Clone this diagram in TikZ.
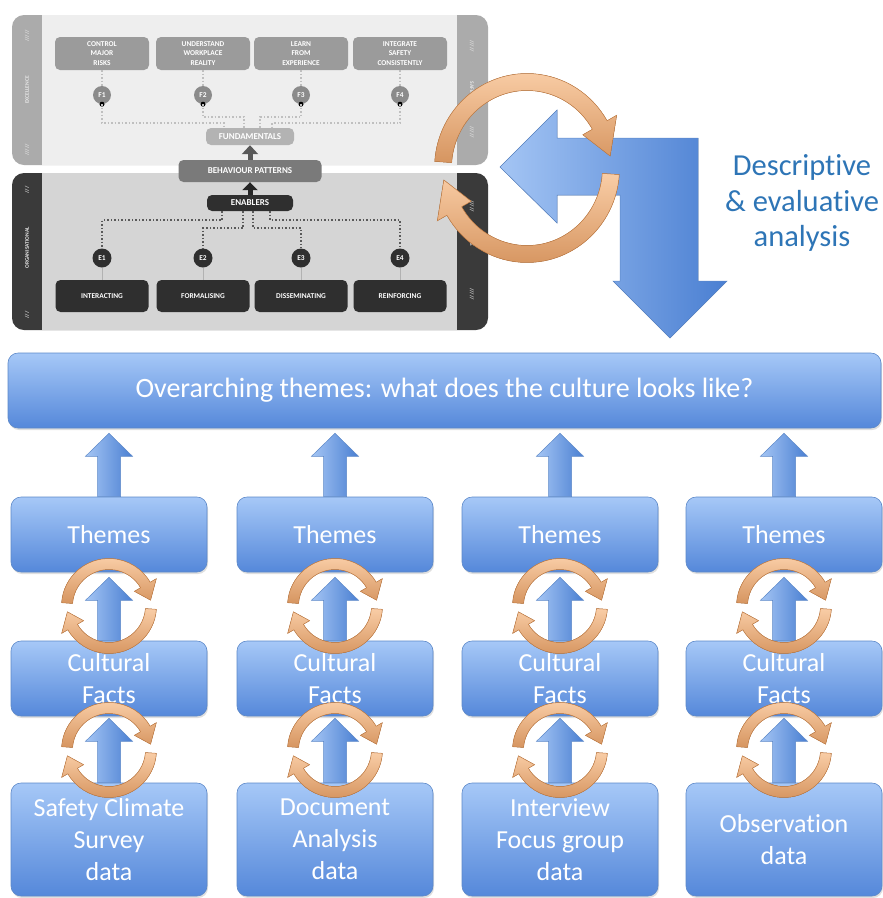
\documentclass[tikz,border=0pt]{standalone}
\usepackage{fontspec}
\setmainfont{Carlito}[Ligatures=NoCommon]
\usetikzlibrary{arrows.meta,calc,shadows}

\definecolor{boxtop}{HTML}{A6C8F7}
\definecolor{boxbot}{HTML}{5588DA}
\definecolor{boxedge}{HTML}{5C88C8}
\definecolor{arrlight}{HTML}{A4C5F4}
\definecolor{arrdark}{HTML}{4A7FD2}
\definecolor{ringlight}{HTML}{F9CDA6}
\definecolor{ringdark}{HTML}{D69560}
\definecolor{ringedge}{HTML}{C98248}
\definecolor{analysisblue}{HTML}{2E75B6}
\definecolor{barlight}{HTML}{ABABAB}
\definecolor{panellight}{HTML}{EEEEEE}
\definecolor{bardark}{HTML}{3A3A3A}
\definecolor{paneldark}{HTML}{D5D5D5}
\definecolor{fgray}{HTML}{9B9B9B}
\definecolor{fundgray}{HTML}{B3B3B3}
\definecolor{behavgray}{HTML}{7A7A7A}
\definecolor{egray}{HTML}{2F2F2F}

\newcommand{\capsfont}{\fontsize{7.4}{9.5}\selectfont\bfseries}
\newcommand{\labelfont}{\fontsize{9}{10}\selectfont\bfseries}

% one ribbon of a cycle ring, clockwise from #4 to #5
\newcommand{\bandarc}[5]{%
  \pgfmathsetmacro{\hb}{#5+22}%
  \pgfmathsetmacro{\rxo}{#1+#3}\pgfmathsetmacro{\ryo}{#2+#3}%
  \pgfmathsetmacro{\rxi}{#1-#3}\pgfmathsetmacro{\ryi}{#2-#3}%
  \pgfmathsetmacro{\rxh}{#1+2.3*#3}\pgfmathsetmacro{\ryh}{#2+2.3*#3}%
  \pgfmathsetmacro{\rxl}{#1-2.3*#3}\pgfmathsetmacro{\ryl}{#2-2.3*#3}%
  \filldraw[ringband] (#4:{\rxo} and {\ryo})
    arc[start angle=#4, end angle=\hb, x radius=\rxo, y radius=\ryo]
    -- (\hb:{\rxh} and {\ryh}) -- (#5:{#1} and {#2}) -- (\hb:{\rxl} and {\ryl})
    -- (\hb:{\rxi} and {\ryi})
    arc[start angle=\hb, end angle=#4, x radius=\rxi, y radius=\ryi] -- cycle;}

% two ribbons round a centre
\newcommand{\cyclering}[5]{%
  \begin{scope}[shift={(#1,#2)}]
    \bandarc{#3}{#4}{#5}{176}{8}
    \bandarc{#3}{#4}{#5}{-4}{-172}
  \end{scope}}

% block arrow pointing up from #1 to #2
\newcommand{\blockup}[2]{%
  \path[blockarrow] let \p1=(#1), \p2=(#2) in
    (\x1-11.5pt,\y1) -- (\x1-11.5pt,\y2-23pt) -- (\x1-23.5pt,\y2-23pt) -- (\x1,\y2)
    -- (\x1+23.5pt,\y2-23pt) -- (\x1+11.5pt,\y2-23pt) -- (\x1+11.5pt,\y1) -- cycle;}

\tikzset{
  bluebox/.style={draw=boxedge, line width=0.6pt, rounded corners=10pt,
    top color=boxtop, bottom color=boxbot, text=white, align=center,
    minimum width=196pt, inner sep=0pt, font=\fontsize{26}{32}\selectfont,
    drop shadow={opacity=0.25, shadow xshift=1pt, shadow yshift=-2pt}},
  blockarrow/.style={draw=boxedge, line width=0.5pt, left color=arrlight, right color=arrdark},
  ringband/.style={draw=ringedge, line width=0.5pt, top color=ringlight, bottom color=ringdark},
  barlabel/.style={text=white!90!black, font=\fontsize{5.5}{6}\selectfont\bfseries, inner sep=0pt},
  fbox/.style={fill=fgray, rounded corners=5pt, minimum width=94pt, minimum height=33pt,
    inner sep=1pt, text=white, align=center, font=\capsfont},
  fcircle/.style={circle, fill=fgray!90!black, text=white, minimum size=18pt, inner sep=0pt,
    font=\capsfont},
  ecircle/.style={circle, fill=egray, text=white, minimum size=19pt, inner sep=0pt,
    font=\capsfont},
  ebox/.style={fill=egray, rounded corners=5pt, minimum width=93pt, minimum height=32pt,
    inner sep=1pt, text=white, font=\capsfont},
  fline/.style={draw=white!75!black, line width=1.5pt, dotted},
  eline/.style={draw=black!65, line width=1.5pt, dotted},
  stem/.style={draw=white!70!black, line width=0.4pt},
  grayarrow/.style={draw=black!65, line width=5pt, -{Triangle[width=16pt,length=9pt]}},
  blackarrow/.style={draw=black!85, line width=5pt, -{Triangle[width=15pt,length=8pt]}}
}

\begin{document}
\begin{tikzpicture}[x=1pt,y=1pt]
\useasboundingbox (0,0) rectangle (883,-898);

% framework panels
\fill[barlight, rounded corners=12pt] (12,-15) rectangle (488,-165);
\fill[panellight] (42,-15) rectangle (457,-165);
\fill[bardark, rounded corners=12pt] (12,-173) rectangle (488,-330);
\fill[paneldark] (42,-173) rectangle (457,-330);

\node[barlabel, rotate=90] (excellence) at (27,-90) {EXCELLENCE};
\node[barlabel, rotate=90] (organisational) at (27,-248) {ORGANISATIONAL};
\node[barlabel, rotate=-90] (safety) at (472,-90) {SAFETY};
\node[barlabel, rotate=-90] (culture) at (472,-236) {CULTURE};
\foreach \y in {-36,-150} \node[barlabel, rotate=90] at (27,\y) {/////};
\foreach \y in {-190,-315} \node[barlabel, rotate=90] at (27,\y) {///};
\foreach \y in {-46,-132} \node[barlabel, rotate=-90] at (472,\y) {/////};
\foreach \y in {-206,-294} \node[barlabel, rotate=-90] at (472,\y) {/////};

% fundamentals
\foreach \i/\x/\txt in {1/102/{CONTROL\\MAJOR\\RISKS},2/203/{UNDERSTAND\\WORKPLACE\\REALITY},
    3/301/{LEARN\\FROM\\EXPERIENCE},4/400/{INTEGRATE\\SAFETY\\CONSISTENTLY}} {
  \node[fbox] (fb\i) at (\x,-53.5) {\txt};
  \node[fcircle] (f\i) at (\x,-95) {F\i};
  \fill (f\i.south) circle (2.5pt);
  \draw[fline] (fb\i) -- (f\i);
}
\node[fbox, fill=fundgray, minimum width=88pt, minimum height=17pt, font=\labelfont]
  (fund) at (250,-136.5) {FUNDAMENTALS};
\foreach \i/\dx/\dy in {1/-26/-19,2/-6/-13,3/10/-13,4/22/-19}
  \draw[fline] (f\i.south) -- ++(0,\dy) -| ([xshift=\dx pt]fund.north);

% enablers
\node[fbox, fill=behavgray, minimum width=143pt, minimum height=22pt, font=\labelfont]
  (behav) at (250,-171) {BEHAVIOUR PATTERNS};
\node[ebox, minimum width=86pt, minimum height=16pt, font=\labelfont]
  (enab) at (250,-203) {ENABLERS};
\foreach \i/\x/\txt in {1/102/INTERACTING,2/203/FORMALISING,3/301/DISSEMINATING,4/400/REINFORCING} {
  \node[ebox] (eb\i) at (\x,-296) {\txt};
  \node[ecircle] (e\i) at (\x,-258) {E\i};
  \draw[stem] (e\i) -- (eb\i);
}
\foreach \i/\dx/\dy in {1/-28/-9,2/-7/-17,3/3/-17,4/20/-9}
  \draw[eline] ([xshift=\dx pt]enab.south) -- ++(0,\dy) -| (e\i.north);
\draw[grayarrow] (behav) -- (fund);
\draw[blackarrow] (enab) -- (behav);

% analysis arrow
\filldraw[draw=boxedge, line width=0.5pt, left color=arrlight, right color=arrdark]
  (500,-167) -- (557,-110) -- (557,-138) -- (698,-138) -- (698,-281) -- (727,-281)
  -- (670,-338) -- (613,-281) -- (620,-281) -- (620,-195) -- (557,-195) -- (557,-223) -- cycle;
\cyclering{527}{-168}{84}{86}{8.5}
\node[text=analysisblue, align=center, font=\fontsize{30.5}{35.5}\selectfont]
  (analysis) at (802,-203) {Descriptive\\\& evaluative\\analysis};

% themes and data
\node[bluebox, minimum width=873pt, minimum height=75pt, font=\fontsize{28}{32}\selectfont]
  (overarch) at (444.5,-390.5) {Overarching themes: what does the culture looks like?};
\foreach \i/\x/\src in {1/109/{Safety Climate\\Survey\\data},2/335/{Document\\Analysis\\data},
    3/560/{Interview\\Focus group\\data},4/784/{Observation\\data}} {
  \node[bluebox, minimum height=75pt] (themes\i) at (\x,-534.5) {Themes};
  \node[bluebox, minimum height=75pt] (facts\i) at (\x,-678.5) {Cultural\\Facts};
  \node[bluebox, minimum height=113pt] (data\i) at (\x,-839.5) {\src};
}
\foreach \i/\x in {1/109,2/335,3/560,4/784} {
  \blockup{themes\i.north}{[yshift=-5pt]overarch.south}
  \blockup{facts\i.north}{[yshift=-5pt]themes\i.south}
  \blockup{data\i.north}{[yshift=-2pt]facts\i.south}
  \cyclering{\x}{-606}{42}{42}{5.5}
  \cyclering{\x}{-750}{42}{42}{5.5}
}
\end{tikzpicture}
\end{document}
